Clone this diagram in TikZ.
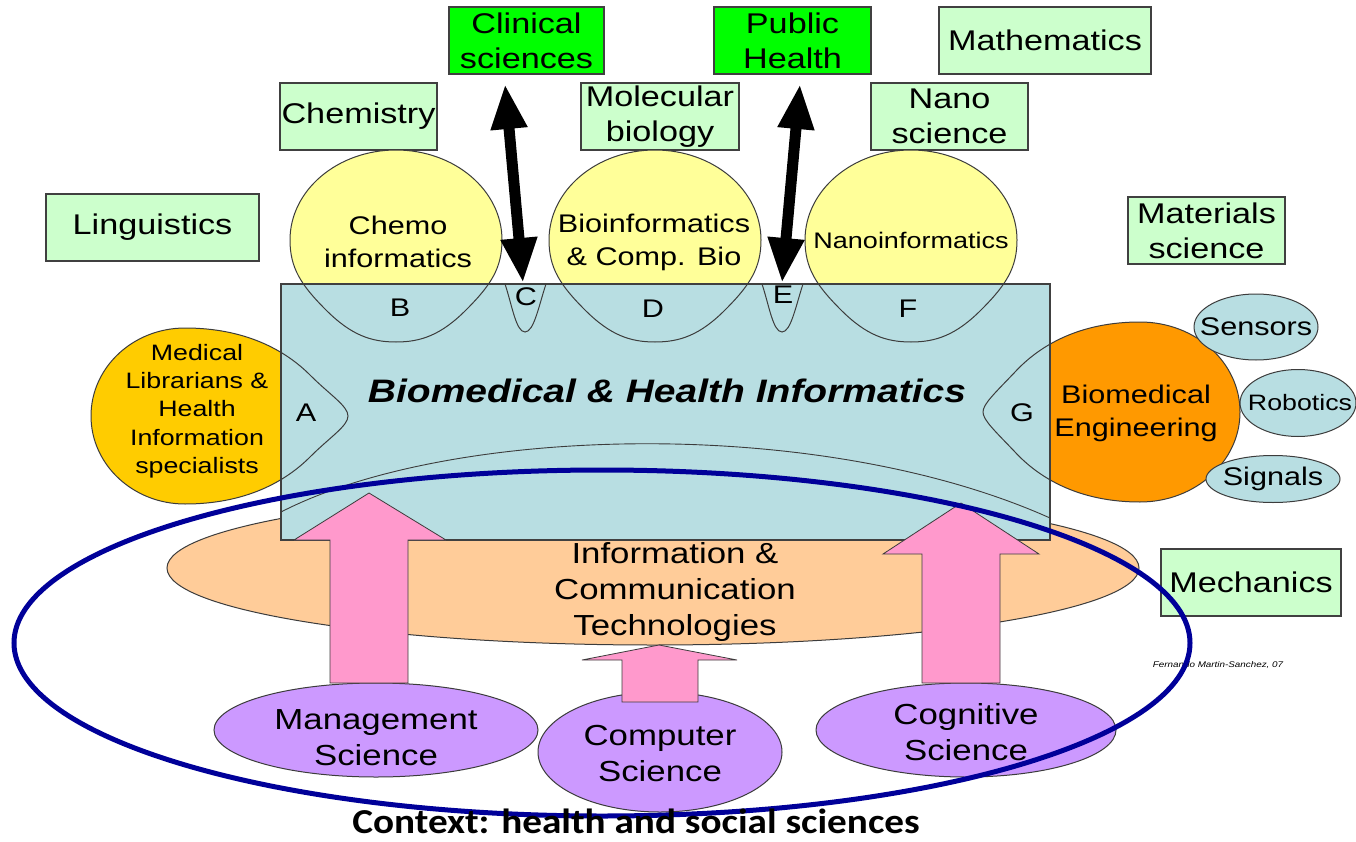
\documentclass[tikz,border=0pt]{standalone}
\usepackage{fontspec}
\usetikzlibrary{shapes.geometric,arrows.meta}
\newfontfamily\af{Liberation Sans}[FakeStretch=1.2]
\newfontfamily\cf{Carlito}[FakeStretch=1.12]
\definecolor{lgreen}{RGB}{204,255,204}
\definecolor{bgreen}{RGB}{0,255,0}
\definecolor{boxline}{RGB}{64,64,64}
\definecolor{elline}{RGB}{60,60,60}
\definecolor{rectblue}{RGB}{184,222,226}
\definecolor{peach}{RGB}{255,204,153}
\definecolor{lyellow}{RGB}{255,255,153}
\definecolor{gold}{RGB}{255,204,0}
\definecolor{orng}{RGB}{255,153,0}
\definecolor{lpurple}{RGB}{204,153,255}
\definecolor{pinkarrow}{RGB}{255,153,204}
\definecolor{navy}{RGB}{0,0,153}
\begin{document}
\begin{tikzpicture}[x=1pt,y=-1pt,
  gbox/.style={draw=boxline, line width=1.5pt, fill=lgreen, inner sep=0pt, align=center, font=\af\fontsize{28.5}{35}\selectfont},
  cbox/.style={gbox, fill=bgreen},
  shp/.style={draw=elline, line width=1pt},
  txt/.style={inner sep=0pt, align=center, text=black},
  t25/.style={txt, font=\af\fontsize{25.5}{33}\selectfont},
  t29/.style={txt, font=\af\fontsize{29}{36}\selectfont},
  pinkshape/.style={fill=pinkarrow, draw=elline, line width=0.8pt},
  blackarrow/.style={line width=11pt, {Triangle[length=45pt,width=34pt]}-{Triangle[length=45pt,width=34pt]}},
  ellnode/.style={ellipse, shp, inner sep=0pt},
]
\useasboundingbox (0,0) rectangle (1356,842);
\fill[white] (0,0) rectangle (1356,842);

% discipline boxes
\node[gbox, minimum width=213, minimum height=67] (ling) at (152.5,227.5) {Linguistics};
\node[gbox, minimum width=157, minimum height=67] (chem) at (358.5,116.5) {Chemistry};
\node[cbox, minimum width=155, minimum height=67] (clin) at (526.5,40.5) {Clinical\\sciences};
\node[gbox, minimum width=158, minimum height=67] (molb) at (660,116.5) {Molecular\\biology};
\node[cbox, minimum width=157, minimum height=67] (pubh) at (792.5,40.5) {Public\\Health};
\node[gbox, minimum width=212, minimum height=67] (math) at (1045,40.5) {Mathematics};
\node[gbox, minimum width=157, minimum height=67] (nano) at (949.5,116.5) {Nano\\science};
\node[gbox, minimum width=157, minimum height=67] (matl) at (1206.5,230.5) {Materials\\science};
\node[gbox, minimum width=180, minimum height=67] (mech) at (1251,582.5) {Mechanics};

% yellow drops (fill)
\foreach \cx in {396,655,911}{
  \fill[lyellow] ({\cx-106},240) arc[start angle=180,end angle=360,x radius=106,y radius=90]
    .. controls ({\cx+106},268) and ({\cx+95},285) .. ({\cx+70},310)
    .. controls ({\cx+45},335) and ({\cx+25},342) .. (\cx,342)
    .. controls ({\cx-25},342) and ({\cx-45},335) .. ({\cx-70},310)
    .. controls ({\cx-95},285) and ({\cx-106},268) .. cycle;
}

% ICT ellipse
\node[ellnode, fill=peach, minimum width=972, minimum height=154] (ict) at (653,568) {};

% medical librarians drop (fill)
\fill[gold] (185,328) .. controls (245,328) and (285,350) .. (310,375)
  .. controls (330,395) and (348,406) .. (348,416)
  .. controls (348,426) and (330,437) .. (310,457)
  .. controls (285,482) and (245,504) .. (185,504)
  arc[start angle=90,end angle=270,x radius=94,y radius=88] -- cycle;
% biomedical engineering drop (fill)
\fill[orng] (1140,322) .. controls (1080,322) and (1040,345) .. (1015,372)
  .. controls (995,393) and (983,404) .. (983,412)
  .. controls (983,420) and (995,431) .. (1015,452)
  .. controls (1040,479) and (1080,502) .. (1140,502)
  arc[start angle=90,end angle=-90,x radius=100,y radius=90] -- cycle;

% main rectangle
\node[draw=boxline, line width=1.5pt, fill=rectblue, minimum width=769, minimum height=256, inner sep=0pt] (bhi) at (665.5,412) {};

% outlines of drops
\foreach \cx in {396,655,911}{
  \draw[shp] ({\cx-106},240) arc[start angle=180,end angle=360,x radius=106,y radius=90]
    .. controls ({\cx+106},268) and ({\cx+95},285) .. ({\cx+70},310)
    .. controls ({\cx+45},335) and ({\cx+25},342) .. (\cx,342)
    .. controls ({\cx-25},342) and ({\cx-45},335) .. ({\cx-70},310)
    .. controls ({\cx-95},285) and ({\cx-106},268) .. cycle;
}
\draw[shp] (185,328) .. controls (245,328) and (285,350) .. (310,375)
  .. controls (330,395) and (348,406) .. (348,416)
  .. controls (348,426) and (330,437) .. (310,457)
  .. controls (285,482) and (245,504) .. (185,504)
  arc[start angle=90,end angle=270,x radius=94,y radius=88] -- cycle;
\draw[shp] (1140,322) .. controls (1080,322) and (1040,345) .. (1015,372)
  .. controls (995,393) and (983,404) .. (983,412)
  .. controls (983,420) and (995,431) .. (1015,452)
  .. controls (1040,479) and (1080,502) .. (1140,502)
  arc[start angle=90,end angle=-90,x radius=100,y radius=90] -- cycle;
% C and E small drops
\draw[shp] (505,284) .. controls (512,305) and (516,332) .. (525,332) .. controls (534,332) and (539,305) .. (546,284);
\draw[shp] (762,284) .. controls (769,305) and (773,332) .. (782,332) .. controls (791,332) and (796,305) .. (803,284);
% thin inner curve
\draw[elline, line width=0.9pt] (281,512) .. controls (450,425) and (820,415) .. (1050,518);

% texts on drops
\node[t25] (chemoinf) at (398,242) {Chemo\\informatics};
\node[t25] (bioinf) at (654,242) {Bioinformatics\\\& Comp. Bio};
\node[txt, font=\af\fontsize{22.5}{28}\selectfont] (nanoinf) at (911,240) {Nanoinformatics};
\node[txt, font=\af\fontsize{22.3}{28.3}\selectfont] (medlib) at (197,411) {Medical\\Librarians \&\\Health\\Information\\specialists};
\node[t25] (bme) at (1136,413) {Biomedical\\Engineering};
\node[t25] (lA) at (306,413) {A};
\node[t25] (lB) at (400,308) {B};
\node[t25] (lC) at (526,297) {C};
\node[t25] (lD) at (653,309) {D};
\node[t25] (lE) at (783,295) {E};
\node[t25] (lF) at (908,309) {F};
\node[t25] (lG) at (1022,413) {G};
\node[txt, font=\af\bfseries\itshape\fontsize{32.5}{36}\selectfont] (bhitxt) at (667,391) {Biomedical \& Health Informatics};
\node[t29] (icttxt) at (675,592) {Information \&\\Communication\\Technologies};

% purple ellipses
\node[ellnode, fill=lpurple, minimum width=324, minimum height=94] (mgmt) at (376,730) {};
\node[ellnode, fill=lpurple, minimum width=244, minimum height=120] (comp) at (660,752) {};
\node[ellnode, fill=lpurple, minimum width=300, minimum height=94] (cogn) at (966,730) {};
\node[t29] (mgmttxt) at (376,738) {Management\\Science};
\node[t29] (comptxt) at (660,754) {Computer\\Science};
\node[t29] (cogntxt) at (966,732) {Cognitive\\Science};

% pink arrows
\coordinate (pa1) at (369,493);
\coordinate (pa2) at (961,503);
\coordinate (pa3) at (659,645);
\draw[pinkshape] (330,683) -- (330,540) -- (294,540) -- (pa1) -- (446,540) -- (408,540) -- (408,683) -- cycle;
\draw[pinkshape] (922,683) -- (922,554) -- (883,554) -- (pa2) -- (1039,554) -- (1000,554) -- (1000,683) -- cycle;
\draw[pinkshape] (622,702) -- (622,660) -- (582,660) -- (pa3) -- (737,660) -- (698,660) -- (698,702) -- cycle;

% small blue ellipses
\node[ellnode, fill=rectblue, minimum width=124, minimum height=66] (sens) at (1256,327) {};
\node[ellnode, fill=rectblue, minimum width=116, minimum height=67] (robo) at (1298,403) {};
\node[ellnode, fill=rectblue, minimum width=134, minimum height=47] (sign) at (1273,479) {};
\node[t25] (senstxt) at (1256,327) {Sensors};
\node[txt, font=\af\fontsize{22.3}{28}\selectfont] (robotxt) at (1300,403) {Robotics};
\node[t25] (signtxt) at (1273,479) {Signals};

% black double arrows
\coordinate (clinTop) at (505,84);
\coordinate (clinBot) at (523,283);
\coordinate (pubTop) at (800,84);
\coordinate (pubBot) at (782,283);
\draw[blackarrow] (clinTop) -- (clinBot);
\draw[blackarrow] (pubTop) -- (pubBot);

% credit
\node[txt, font=\af\itshape\fontsize{8.2}{10}\selectfont] (credit) at (1218,665) {Fernando Martin-Sanchez, 07};

% context ellipse
\node[ellipse, draw=navy, line width=5pt, minimum width=1176, minimum height=346, inner sep=0pt] (ctx) at (602,643) {};

\node[txt, font=\cf\bfseries\fontsize{35}{40}\selectfont] (ctxtxt) at (636,821) {Context: health and social sciences};
\end{tikzpicture}
\end{document}
